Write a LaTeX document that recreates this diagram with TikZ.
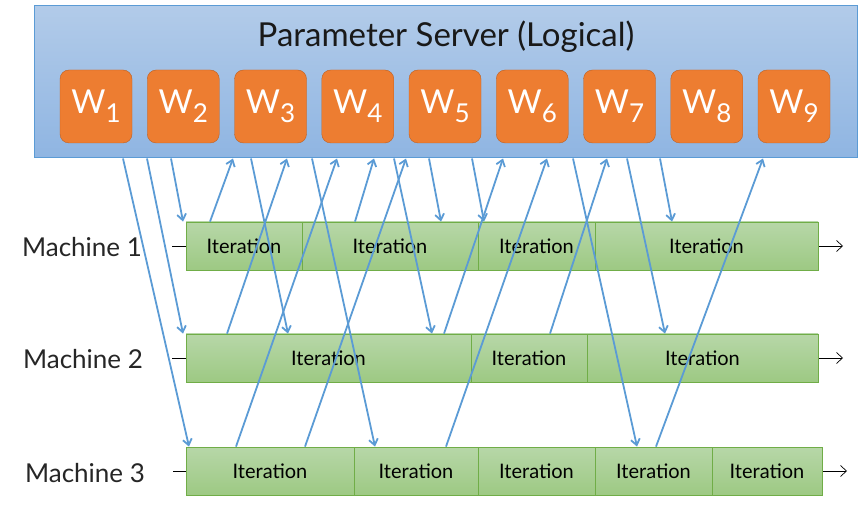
\documentclass[tikz,border=0pt]{standalone}
\usepackage{fontspec}
\setmainfont{Lato}
\usetikzlibrary{arrows.meta, positioning}
\definecolor{psEdge}{RGB}{91,155,213}
\definecolor{psTop}{RGB}{178,203,233}
\definecolor{psBot}{RGB}{143,181,226}
\definecolor{wFill}{RGB}{237,125,49}
\definecolor{wEdge}{RGB}{190,96,34}
\definecolor{itTop}{RGB}{183,215,168}
\definecolor{itBot}{RGB}{157,201,131}
\definecolor{itEdge}{RGB}{112,173,71}
\newcommand{\wsub}[1]{W\raisebox{-9pt}{\fontsize{26}{26}\selectfont #1}}

\begin{document}
\begin{tikzpicture}[x=1pt, y=-1pt,
  server/.style={draw=psEdge, line width=1pt, top color=psTop, bottom color=psBot,
    minimum width=823pt, minimum height=152pt},
  param/.style={draw=wEdge, fill=wFill, rounded corners=9pt, minimum width=72pt,
    minimum height=73pt, text=white, font=\fontsize{33}{33}\selectfont},
  iter/.style={draw=itEdge, line width=0.8pt, top color=itTop, bottom color=itBot,
    minimum height=48pt, inner sep=0pt, font=\fontsize{20}{20}\selectfont},
  machine/.style={anchor=base, text=black!85, font=\fontsize{26}{26}\selectfont},
  timeline/.style={line width=0.7pt, -{Straight Barb[length=6pt,width=11pt]}},
  msg/.style={draw=psEdge, line width=1.8pt, -{Straight Barb[length=6pt,width=9pt]}}]

  \useasboundingbox (0,0) rectangle (859,510);

  \node[server] (ps) at (445.5,82) {};
  \node[anchor=base, text=black!90, font=\fontsize{33}{33}\selectfont] (title) at (446,47)
    {Parameter Server (Logical)};
  \foreach \i in {1,...,9}
    \node[param] (w\i) at ({96+87.25*(\i-1)},106.5) {\wsub{\i}};

  \node[machine] (lab1) at (82,257) {Machine 1};
  \node[machine] (lab2) at (83,368) {Machine 2};
  \node[machine] (lab3) at (85,482) {Machine 3};

  \coordinate (s1) at (172,246); \coordinate (e1) at (843,246);
  \coordinate (s2) at (172,358); \coordinate (e2) at (843,358);
  \coordinate (s3) at (173,471); \coordinate (e3) at (847,471);
  \foreach \k in {1,2,3}
    \draw[timeline] (s\k) -- (e\k);

  \foreach \l/\r [count=\i] in {186/302, 302/478, 478/595, 595/818}
    \node[iter, minimum width={(\r-\l)*1pt}] (m1i\i) at ({(\l+\r)/2},246) {Iteration};
  \foreach \l/\r [count=\i] in {186/471, 471/587, 587/818}
    \node[iter, minimum width={(\r-\l)*1pt}] (m2i\i) at ({(\l+\r)/2},358) {Iteration};
  \foreach \l/\r [count=\i] in {186/354, 354/478, 478/595, 595/712, 712/822}
    \node[iter, minimum width={(\r-\l)*1pt}] (m3i\i) at ({(\l+\r)/2},471) {Iteration};

  \foreach \a/\b/\m in {123/189/m3i1, 147/183/m2i1, 171/183/m1i1, 251/288/m2i1,
      312/375/m3i1, 394/432/m2i1, 429/441/m1i1, 472/484/m1i1, 573/637/m3i1,
      627/665/m2i1, 660/672/m1i1}
    \draw[msg] (\a,0 |- ps.south) -- (\b,0 |- \m.north);
  \foreach \a/\m/\b in {210/m1i1/233, 227/m2i1/287, 236/m3i1/337, 305/m3i1/406,
      355/m1i1/374, 446/m3i1/547, 444/m2i1/503, 550/m2i1/607, 656/m3i1/763}
    \draw[msg] (\a,0 |- \m.north) -- (\b,0 |- ps.south);
\end{tikzpicture}
\end{document}
